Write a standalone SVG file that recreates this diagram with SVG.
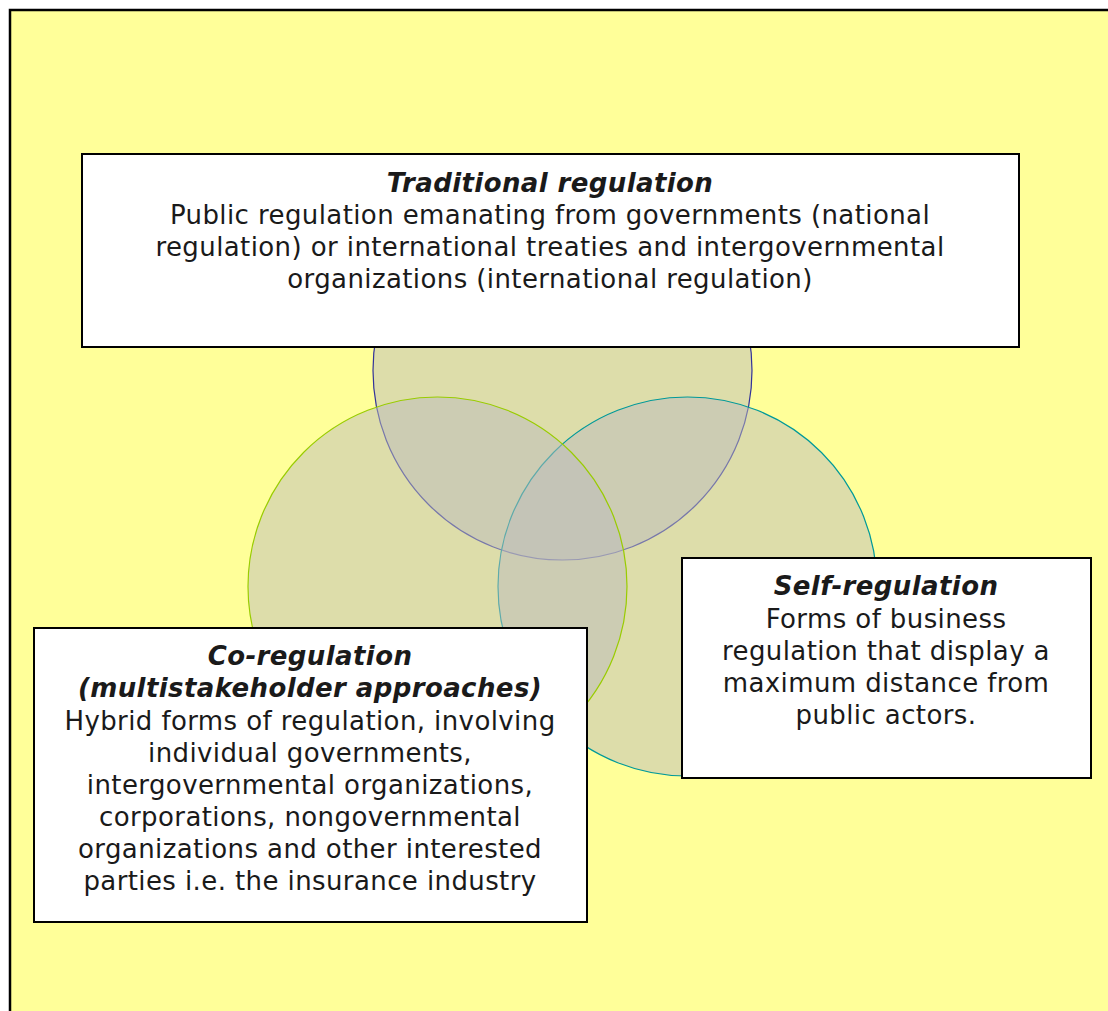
<svg xmlns="http://www.w3.org/2000/svg" width="1108" height="1011" viewBox="0 0 1108 1011">
<style>
.bg{fill:#ffff99;stroke:#000;stroke-width:2.5}
.c{fill:#bbbbbb;fill-opacity:0.5;stroke-width:1.2}
.box{fill:#fff;stroke:#000;stroke-width:2}
text{font-family:"DejaVu Sans",Verdana,sans-serif;font-size:26px;letter-spacing:0.4px;fill:#1a1a1a;text-anchor:middle}
.t{font-weight:bold;font-style:italic}
</style>
<rect width="1108" height="1011" fill="#fff"/>
<rect class="bg" x="10" y="10" width="1120" height="1030"/>
<g id="circles">
<circle id="circle-traditional" class="c" cx="562.5" cy="370.5" r="189.5" stroke="#333399"/>
<circle id="circle-self" class="c" cx="687.5" cy="586.5" r="189.5" stroke="#009999"/>
<circle id="circle-co" class="c" cx="437.5" cy="586.5" r="189.5" stroke="#99cc00"/>
</g>
<g id="connectors"/>
<g id="node-traditional">
<rect class="box" x="82" y="154" width="937" height="193"/>
<text class="t" x="550" y="192">Traditional regulation</text>
<text x="550" y="224">Public regulation emanating from governments (national</text>
<text x="550" y="256">regulation) or international treaties and intergovernmental</text>
<text x="550" y="288">organizations (international regulation)</text>
</g>
<g id="node-self">
<rect class="box" x="682" y="558" width="409" height="220"/>
<text class="t" x="886" y="595">Self-regulation</text>
<text x="886" y="628">Forms of business</text>
<text x="886" y="660">regulation that display a</text>
<text x="886" y="692">maximum distance from</text>
<text x="886" y="724">public actors.</text>
</g>
<g id="node-co">
<rect class="box" x="34" y="628" width="553" height="294"/>
<text class="t" x="310" y="665">Co-regulation</text>
<text class="t" x="310" y="697">(multistakeholder approaches)</text>
<text x="310" y="730">Hybrid forms of regulation, involving</text>
<text x="310" y="762">individual governments,</text>
<text x="310" y="794">intergovernmental organizations,</text>
<text x="310" y="826">corporations, nongovernmental</text>
<text x="310" y="858">organizations and other interested</text>
<text x="310" y="890">parties i.e. the insurance industry</text>
</g>
</svg>
